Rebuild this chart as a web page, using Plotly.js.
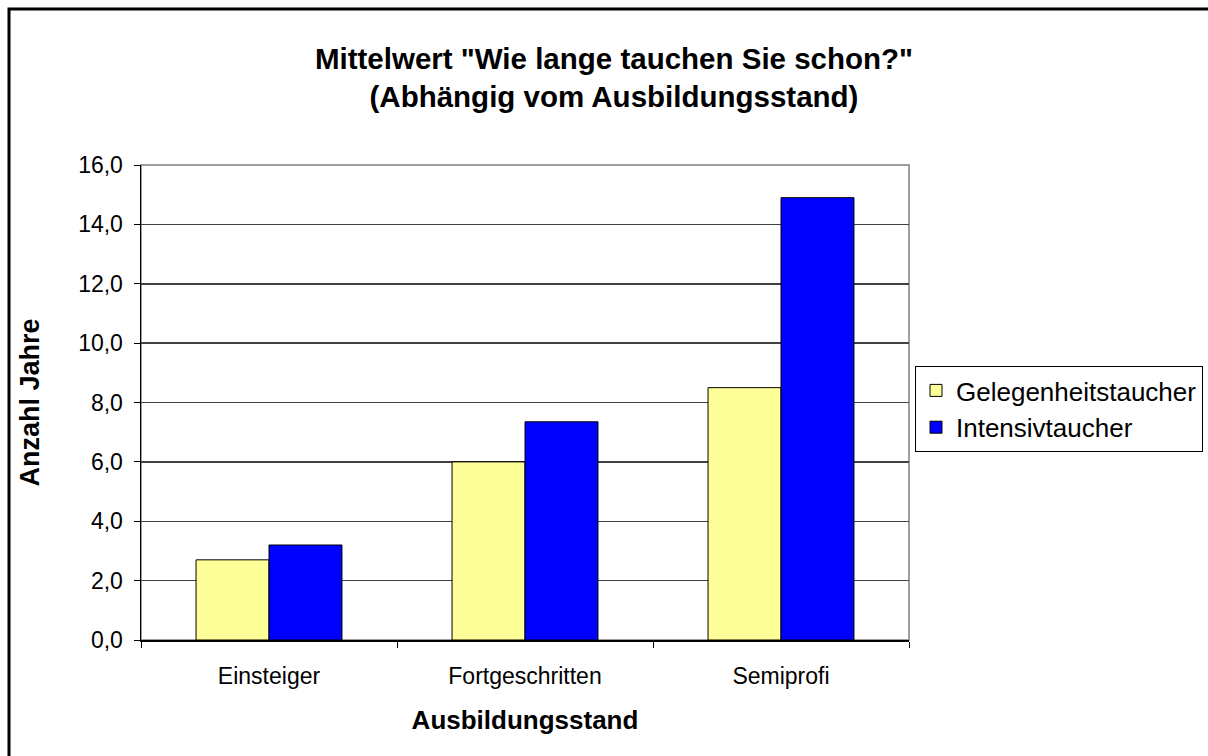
<!DOCTYPE html>
<html>
<head>
<meta charset="utf-8">
<script src="https://cdn.plot.ly/plotly-3.0.1.min.js"></script>
<style>html,body{margin:0;padding:0;background:#fff;}#chart{width:1208px;height:756px;}</style>
</head>
<body>
<div id="chart"></div>
<script>
var categories = ["Einsteiger", "Fortgeschritten", "Semiprofi"];
var gelegenheitstaucher = [2.7, 6.0, 8.5];
var intensivtaucher = [3.2, 7.35, 14.9];
var seriesNames = ["Gelegenheitstaucher", "Intensivtaucher"];

var W = 1208, H = 756;
var M = {l: 141, r: 299, t: 165, b: 116, autoexpand: false};
var pw = W - M.l - M.r, ph = H - M.t - M.b;
function px(x){ return (x - M.l) / pw; }
function py(y){ return (H - M.b - y) / ph; }

var font = "Arial, 'Liberation Sans', sans-serif";

var traces = [
  {type: "bar", name: seriesNames[0], x: categories, y: gelegenheitstaucher,
   marker: {color: "#FFFF99", line: {color: "#000000", width: 1}}},
  {type: "bar", name: seriesNames[1], x: categories, y: intensivtaucher,
   marker: {color: "#0000FF", line: {color: "#000000", width: 1}}}
];

var layout = {
  width: W, height: H,
  margin: M,
  paper_bgcolor: "#ffffff", plot_bgcolor: "#ffffff",
  separators: ",.",
  font: {family: font, color: "#000000", size: 23},
  barmode: "group", bargap: 0.43, bargroupgap: 0,
  title: {
    text: "Mittelwert \"Wie lange tauchen Sie schon?\"<br>(Abhängig vom Ausbildungsstand)",
    font: {family: font, size: 29.5, weight: "bold", color: "#000"},
    x: 614 / W, xanchor: "center", xref: "container",
    y: 1 - 69 / H, yanchor: "middle", yref: "container"
  },
  xaxis: {
    type: "category",
    showline: true, linecolor: "#000", linewidth: 1.5,
    ticks: "outside", ticklen: 6, tickcolor: "#000", tickwidth: 1,
    tickson: "boundaries",
    ticklabelstandoff: 15,
    tickfont: {size: 23},
    showgrid: false, zeroline: false,
    title: {text: "Ausbildungsstand", font: {size: 26, weight: "bold"}, standoff: 22}
  },
  yaxis: {
    range: [0, 16], dtick: 2, tickformat: ".1f",
    showline: true, linecolor: "#000", linewidth: 1.5,
    ticks: "outside", ticklen: 6, tickcolor: "#000", tickwidth: 1,
    ticklabelstandoff: 6,
    tickfont: {size: 23},
    showgrid: true, gridcolor: "#404040", gridwidth: 1.5,
    zeroline: false,
    title: {text: "Anzahl Jahre", font: {size: 27, weight: "bold"}, standoff: 30}
  },
  legend: {
    x: px(915), y: py(366), xanchor: "left", yanchor: "top",
    bgcolor: "#fff", bordercolor: "#000", borderwidth: 1,
    font: {size: 26}, itemwidth: 30, tracegroupgap: 0
  },
  shapes: [
    {type: "rect", xref: "paper", yref: "paper", x0: 0, x1: 1, y0: 0, y1: 1,
     line: {color: "#808080", width: 1.5}, layer: "below"},
    {type: "rect", xref: "paper", yref: "paper",
     x0: px(9), x1: px(1240), y0: py(790), y1: py(9),
     line: {color: "#000", width: 3}, fillcolor: "rgba(0,0,0,0)"}
  ]
};

Plotly.newPlot("chart", traces, layout, {displayModeBar: false, staticPlot: true});
</script>
</body>
</html>
